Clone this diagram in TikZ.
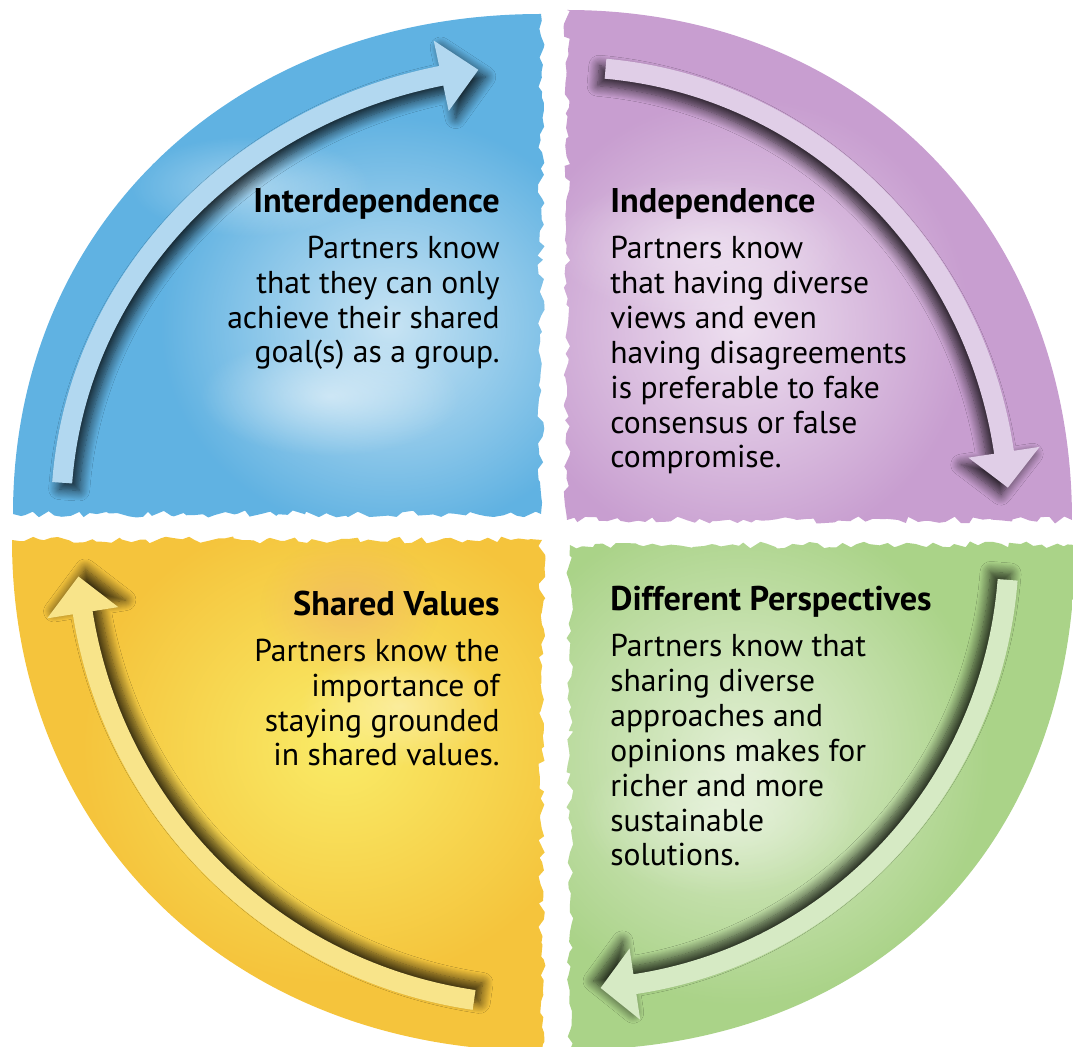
\documentclass[tikz,border=0pt]{standalone}
\usepackage{fontspec}
\setmainfont{PT Sans}
\usetikzlibrary{decorations.pathmorphing,fadings,shadows.blur}

\definecolor{bluewash}{RGB}{96,178,226}
\definecolor{bluelight}{RGB}{200,228,244}
\definecolor{bluearrow}{RGB}{178,216,240}
\definecolor{purplewash}{RGB}{200,158,208}
\definecolor{purplelight}{RGB}{238,224,240}
\definecolor{purplearrow}{RGB}{224,206,231}
\definecolor{yellowwash}{RGB}{245,196,60}
\definecolor{yellowlight}{RGB}{250,236,104}
\definecolor{yellowblush}{RGB}{238,170,110}
\definecolor{yellowarrow}{RGB}{248,228,138}
\definecolor{greenwash}{RGB}{170,211,136}
\definecolor{greenlight}{RGB}{226,239,212}
\definecolor{greenarrow}{RGB}{214,234,196}

\tikzfading[name=softspot,inner color=transparent!0,outer color=transparent!100]

\newcommand{\quadtitle}[1]{{\fontsize{19.5}{19.9}\selectfont\bfseries #1}}

\tikzset{
  torn/.style={decoration={random steps,segment length=4pt,amplitude=2pt}},
  arrowband/.style 2 args={blur shadow={shadow xshift=#1,shadow yshift=#2,
      shadow blur radius=6pt,shadow blur steps=12,shadow opacity=80}},
  quadtext/.style={font=\fontsize{18}{19.9}\selectfont,inner sep=0pt}
}

\begin{document}
\begin{tikzpicture}[x=0.02cm,y=0.02cm]
\useasboundingbox (0,0) rectangle (1073,1046);
\pgfmathsetseed{7}

\begin{scope}
  \clip[torn] (541,1032) decorate{-- (541,532) -- (13,532)} .. controls (13,822) and (235,1032) .. (541,1032) -- cycle;
  \fill[bluewash] (0,500) rectangle (580,1046);
  \fill[bluelight,path fading=softspot] (390,720) ellipse (230 and 210);
  \fill[white,opacity=.5,path fading=softspot] (330,650) ellipse (130 and 60);
  \fill[white,opacity=.4,path fading=softspot] (250,860) ellipse (120 and 50);
\end{scope}

\begin{scope}
  \clip[torn] (1072,526) decorate{-- (567,526) -- (567,1036)} .. controls (860,1036) and (1072,822) .. (1072,526) -- cycle;
  \fill[purplewash] (550,500) rectangle (1073,1046);
  \fill[purplelight,path fading=softspot] (740,720) ellipse (230 and 230);
  \fill[white,opacity=.4,path fading=softspot] (700,800) ellipse (150 and 70);
\end{scope}

\begin{scope}
  \clip[torn] (12,506) decorate{-- (542,506) -- (542,-5)} .. controls (235,-5) and (12,210) .. (12,506) -- cycle;
  \fill[yellowwash] (0,-10) rectangle (560,520);
  \fill[yellowlight,path fading=softspot] (340,300) ellipse (260 and 240);
  \fill[yellowblush,opacity=.5,path fading=softspot] (350,440) ellipse (90 and 70);
  \fill[white,opacity=.4,path fading=softspot] (400,340) ellipse (100 and 60);
\end{scope}

\begin{scope}
  \clip[torn] (1075,501) decorate{-- (570,501) -- (570,-4)} .. controls (873,-4) and (1075,198) .. (1075,501) -- cycle;
  \fill[greenwash] (550,-10) rectangle (1073,520);
  \fill[greenlight,path fading=softspot] (740,290) ellipse (250 and 250);
  \fill[white,opacity=.4,path fading=softspot] (720,230) ellipse (140 and 80);
\end{scope}

\begin{scope}[shift={(541,532)}]
  \fill[bluearrow,arrowband={4pt}{-4pt}] (176:490 and 458) arc[start angle=176,end angle=102,x radius=490,y radius=458]
    -- (102:516 and 484) -- (97.5:480 and 448) -- (102:444 and 412)
    -- (102:470 and 438) arc[start angle=102,end angle=176,x radius=470,y radius=438] -- cycle;
\end{scope}
\begin{scope}[shift={(567,526)}]
  \fill[purplearrow,arrowband={-4pt}{-4pt}] (85:452 and 463) arc[start angle=85,end angle=8.6,x radius=452,y radius=463]
    -- (8.6:478 and 489) -- (4.1:442 and 453) -- (8.6:406 and 417)
    -- (8.6:432 and 443) arc[start angle=8.6,end angle=85,x radius=432,y radius=443] -- cycle;
\end{scope}
\begin{scope}[shift={(542,506)}]
  \fill[yellowarrow,arrowband={4pt}{4pt}] (261.6:475 and 475) arc[start angle=261.6,end angle=189,radius=475]
    -- (189:501 and 501) -- (184.5:465 and 465) -- (189:429 and 429)
    -- (189:455 and 455) arc[start angle=189,end angle=261.6,radius=455] -- cycle;
\end{scope}
\begin{scope}[shift={(570,501)}]
  \fill[greenarrow,arrowband={-4pt}{4pt}] (-4.5:449 and 454) arc[start angle=-4.5,end angle=-81.5,x radius=449,y radius=454]
    -- (-81.5:475 and 480) -- (-86:439 and 444) -- (-81.5:403 and 408)
    -- (-81.5:429 and 434) arc[start angle=-81.5,end angle=-4.5,x radius=429,y radius=434] -- cycle;
\end{scope}

\node[quadtext,anchor=base east,align=right] (interdep) at (500,683)
  {\quadtitle{Interdependence}\\[6pt]Partners know\\that they can only\\achieve their shared\\goal(s) as a group.};
\node[quadtext,anchor=base west,align=left] (indep) at (610,578)
  {\quadtitle{Independence}\\[6pt]Partners know\\that having diverse\\views and even\\having disagreements\\is preferable to fake\\consensus or false\\compromise.};
\node[quadtext,anchor=base east,align=right] (values) at (500,280)
  {\quadtitle{Shared Values}\\[6pt]Partners know the\\importance of\\staying grounded\\in shared values.};
\node[quadtext,anchor=base west,align=left] (perspect) at (610,180)
  {\quadtitle{Different Perspectives}\\[6pt]Partners know that\\sharing diverse\\approaches and\\opinions makes for\\richer and more\\sustainable\\solutions.};
\end{tikzpicture}
\end{document}
